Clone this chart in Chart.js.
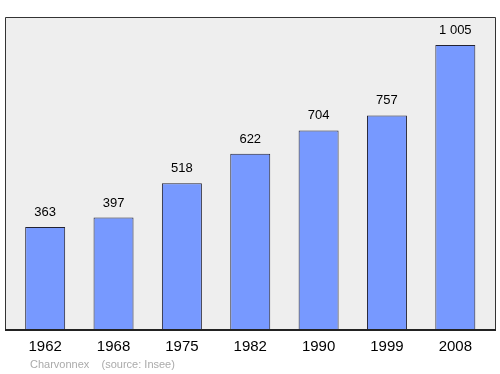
<!DOCTYPE html>
<html><head><meta charset="utf-8">
<script src="https://cdn.jsdelivr.net/npm/chart.js@4"></script>
<style>html,body{margin:0;padding:0;background:#fff}#wrap{width:500px;height:374px}</style>
</head><body><div id="wrap"><canvas id="c" width="500" height="374"></canvas></div>
<script>
const categories = ["1962","1968","1975","1982","1990","1999","2008"];
const population = [363,397,518,622,704,757,1005];
const valueLabels = ["363","397","518","622","704","757","1 005"];
const sourceText = "Charvonnex    (source: Insee)";

const frame = {
  id:'frame',
  beforeDraw(chart){
    const ctx=chart.ctx;
    ctx.save();
    ctx.fillStyle='#eeeeee';
    ctx.fillRect(5,17,491,313);
    ctx.restore();
  },
  afterDraw(chart){
    const ctx=chart.ctx, x=chart.scales.x, y=chart.scales.y;
    ctx.save();
    ctx.strokeStyle='#333';ctx.lineWidth=1;
    ctx.beginPath();
    ctx.moveTo(5.5,330);ctx.lineTo(5.5,17.5);ctx.lineTo(495.5,17.5);ctx.lineTo(495.5,330);
    ctx.stroke();
    ctx.strokeStyle='#222';ctx.lineWidth=2;
    ctx.beginPath();ctx.moveTo(5,330);ctx.lineTo(496,330);ctx.stroke();
    ctx.fillStyle='#000';ctx.textAlign='center';ctx.textBaseline='middle';
    ctx.font='13px "Liberation Sans", Arial, sans-serif';
    population.forEach((v,i)=>{
      ctx.fillText(valueLabels[i], x.getPixelForValue(i), y.getPixelForValue(v)-14.5);
    });
    ctx.font='15px "Liberation Sans", Arial, sans-serif';
    categories.forEach((c,i)=>{
      ctx.fillText(c, x.getPixelForValue(i), 347);
    });
    ctx.fillStyle='#aaa';ctx.textAlign='left';
    ctx.font='11px "Liberation Sans", Arial, sans-serif';
    ctx.fillText(sourceText, 30, 365);
    ctx.restore();
  }
};

new Chart(document.getElementById('c'),{
  type:'bar',
  data:{labels:categories,datasets:[{data:population,backgroundColor:'#7799ff',borderColor:'#222233',borderWidth:{top:1,left:1,right:1,bottom:0},borderSkipped:false,categoryPercentage:1,barPercentage:0.585}]},
  options:{
    responsive:false,animation:false,
    layout:{padding:{left:11,right:10.5,top:17,bottom:44}},
    plugins:{legend:{display:false},tooltip:{enabled:false}},
    scales:{
      x:{display:false},
      y:{display:false,min:0,max:1104}
    }
  },
  plugins:[frame]
});
</script></body></html>
